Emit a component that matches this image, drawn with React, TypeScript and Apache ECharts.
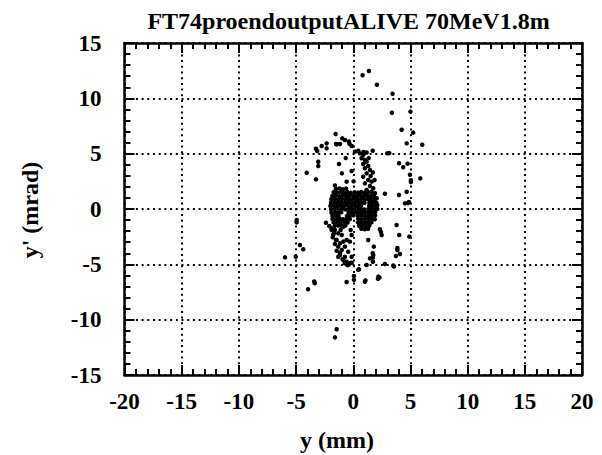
import React, { useEffect, useRef } from "react";
import * as echarts from "echarts";

// Phase-space scatter: y (mm) against y' (mrad)
const TITLE = "FT74proendoutputALIVE 70MeV1.8m";
const X_NAME = "y (mm)";
const Y_NAME = "y' (mrad)";
const X_RANGE = [-20, 20];
const Y_RANGE = [-15, 15];
const TICK_STEP = 5;

// dense left lobe of the beam core
const coreLeft: number[][] = [
  [-1.52, 1.82], [-1.21, 1.86], [-0.92, 1.79], [-0.63, 1.84],
  [-1.71, 1.52], [-1.43, 1.49], [-1.12, 1.55], [-0.81, 1.47], [-0.52, 1.53], [-0.22, 1.46],
  [-1.83, 1.18], [-1.52, 1.23], [-1.19, 1.16], [-0.9, 1.22], [-0.61, 1.17], [-0.31, 1.24], [0.02, 1.19],
  [-1.92, 0.88], [-1.6, 0.93], [-1.31, 0.86], [-1.02, 0.91], [-0.71, 0.87], [-0.41, 0.92], [-0.12, 0.88], [0.18, 0.91],
  [-1.94, 0.58], [-1.63, 0.62], [-1.33, 0.57], [-1.01, 0.61], [-0.69, 0.56], [-0.4, 0.63], [-0.11, 0.58], [0.21, 0.62],
  [-2.0, 0.28], [-1.72, 0.32], [-1.41, 0.27], [-1.12, 0.31], [-0.81, 0.29], [-0.49, 0.33], [-0.19, 0.27], [0.12, 0.31],
  [-1.93, -0.02], [-1.62, 0.03], [-1.32, -0.01], [-1.02, 0.02], [-0.71, -0.03], [-0.42, 0.01], [-0.12, -0.02], [0.19, 0.02],
  [-1.91, -0.31], [-1.61, -0.28], [-1.33, -0.33], [-1.05, -0.3], [-0.41, -0.29], [-0.1, -0.32], [0.21, -0.28],
  [-1.82, -0.61], [-1.52, -0.58], [-1.29, -0.63], [-0.55, -0.62], [-0.31, -0.6], [0.01, -0.57],
  [-1.81, -0.9], [-1.51, -0.93], [-1.21, -0.88], [-0.91, -0.92], [-0.6, -0.89], [-0.29, -0.91],
  [-1.72, -1.21], [-1.41, -1.18], [-1.1, -1.23], [-0.79, -1.19], [-0.5, -1.22],
  [-1.61, -1.52], [-1.3, -1.49], [-1.01, -1.53], [-0.69, -1.5],
];

// right lobe of the beam core
const coreRight: number[][] = [
  [0.12, 1.52], [0.41, 1.48], [0.7, 1.53], [1.01, 1.47], [1.29, 1.51],
  [0.31, 1.19], [0.6, 1.23], [0.91, 1.18], [1.2, 1.22], [1.52, 1.17], [1.81, 1.21],
  [0.42, 0.89], [0.71, 0.92], [1.02, 0.87], [1.31, 0.91], [1.61, 0.88], [1.9, 0.92],
  [0.41, 0.59], [0.69, 0.62], [0.98, 0.56], [1.41, 0.58], [1.72, 0.61], [2.01, 0.57],
  [0.42, 0.28], [0.68, 0.31], [1.39, 0.29], [1.7, 0.32], [2.02, 0.27],
  [0.4, -0.02], [0.66, 0.01], [0.95, -0.04], [1.32, -0.01], [1.52, 0.02], [1.81, -0.02], [2.1, 0.01],
  [0.41, -0.31], [0.71, -0.28], [1.0, -0.32], [1.29, -0.29], [1.61, -0.31], [1.92, -0.28],
  [0.39, -0.61], [0.7, -0.58], [1.01, -0.62], [1.31, -0.59], [1.6, -0.61], [1.91, -0.58],
  [0.42, -0.89], [0.71, -0.92], [1.02, -0.88], [1.3, -0.91], [1.62, -0.89], [1.88, -0.92],
  [0.41, -1.21], [0.69, -1.18], [1.01, -1.22], [1.31, -1.19], [1.59, -1.21],
  [0.52, -1.51], [0.81, -1.48], [1.1, -1.52], [1.41, -1.49],
  [0.71, -1.79], [1.0, -1.83], [1.29, -1.8],
];

// column of particles rising from the core towards y' = 5
const upperColumn: number[][] = [
  [0.15, 5.18], [0.44, 5.27], [0.59, 5.03], [0.87, 4.88], [0.73, 4.58], [1.02, 4.43],
  [1.17, 4.27], [0.87, 4.07], [1.31, 3.88], [1.02, 3.68], [1.46, 3.52], [1.17, 3.22],
  [1.52, 2.98], [0.87, 2.92], [1.31, 2.62], [1.61, 2.47], [1.02, 2.32], [1.46, 2.08],
  [1.75, 1.87], [1.17, 1.72], [1.61, 1.56], [1.9, 1.42], [2.05, 0.97], [2.1, 0.36],
  [0.9, 5.15], [1.17, 5.1], [1.7, 5.27], [1.86, 2.62], [1.72, 3.3], [1.35, 4.6],
];

// tail hanging below the left lobe
const lowerTail: number[][] = [
  [-2.39, -1.24], [-2.1, -1.54], [-1.89, -1.9], [-1.69, -2.2], [-1.8, -2.56], [-1.51, -2.8],
  [-1.6, -3.16], [-1.31, -3.4], [-1.45, -3.77], [-1.16, -4.0], [-1.31, -4.31], [-0.93, -4.54],
  [-0.73, -4.85], [-0.52, -5.06], [-1.01, -2.35], [-0.87, -2.95], [-0.73, -3.4], [-0.44, -3.86],
  [-0.14, -4.31], [-1.1, -1.9], [-1.89, -1.74], [-1.6, -1.9], [-1.75, -2.35], [-1.31, -2.2],
  [-1.45, -2.8], [-1.16, -3.1], [-1.01, -3.7], [-1.16, -4.15], [-0.73, -4.31], [-0.58, -4.76],
  [-0.87, -4.6], [-0.29, -4.9], [-0.14, -4.85], [-0.44, -5.06], [-0.58, -2.8], [-0.29, -2.95],
  [-0.87, -1.6], [-0.23, -1.9], [-0.14, -2.35],
];

// scattered halo particles
const halo: number[][] = [
  [0.82, 12.08], [1.37, 12.47], [2.07, 11.23], [3.44, 10.42], [3.38, 8.7], [5.0, 8.8],
  [4.23, 7.16], [5.24, 6.9], [4.67, 5.93], [6.03, 5.8],
  [-1.54, 6.78], [-0.96, 6.38], [-0.73, 6.23], [-0.38, 6.1], [-0.33, 5.9], [-2.33, 5.93],
  [-2.76, 5.69], [-3.26, 5.45], [-3.15, 5.24], [-2.33, 5.48], [-1.51, 5.87], [-1.16, 5.87],
  [-1.45, 5.85], [-0.14, 5.69], [-3.06, 4.27], [-3.06, 3.88], [-4.07, 3.28], [-3.26, 2.68],
  [-1.25, 4.07], [-0.66, 4.6], [-0.99, 3.22], [-0.14, 3.43], [0.03, 2.5], [-0.58, 2.47], [-1.6, 2.12],
  [2.97, 5.03], [3.15, 5.05],
  [4.0, 4.13], [4.37, 3.77], [4.75, 4.1], [4.96, 3.1], [5.04, 2.6], [5.04, 2.44], [5.86, 2.77],
  [2.77, 1.38], [4.0, 1.26], [4.67, 1.56], [4.87, 0.63], [4.52, 0.51], [4.78, 0.54],
  [2.33, -1.83], [2.48, -2.35], [2.42, -2.08], [3.79, -1.45], [4.02, -2.35], [4.9, -2.5],
  [3.86, -3.52], [3.86, -3.7], [4.08, -4.07], [3.73, -4.25], [1.75, -4.15], [1.72, -4.38],
  [1.7, -4.0], [1.46, -4.46], [1.31, -2.8], [1.8, -3.4], [3.56, -5.2], [3.5, -5.1],
  [2.77, -4.97], [2.19, -6.11], [2.16, -6.3], [2.3, -6.2], [1.02, -6.57], [1.07, -6.45],
  [0.5, -5.45], [0.44, -5.5], [0.06, -6.05], [0.06, -6.4], [-0.58, -6.6], [1.17, -5.06],
  [1.72, -4.76], [-0.73, -4.9],
  [-4.95, -1.0], [-4.95, -1.2], [-4.66, -3.25], [-4.37, -3.64], [-5.97, -4.37], [-5.03, -4.31],
  [-3.41, -6.55], [-3.37, -6.7], [-3.95, -7.25], [-1.45, -10.87], [-1.6, -11.6],
];

const FONT = "Liberation Serif, Times New Roman, serif";
const LABEL_SIZE = 23;

// one axis of the frame; labelled axes also carry the dotted grid
function frameAxis(
  position: "bottom" | "top" | "left" | "right",
  range: number[],
  labelled: boolean,
  margin: number
) {
  return {
    type: "value",
    position,
    min: range[0],
    max: range[1],
    interval: TICK_STEP,
    axisLine: { show: true, onZero: false, lineStyle: { color: "#000", width: 2.5 } },
    axisTick: { show: true, inside: true, length: 10, lineStyle: { color: "#000", width: 2 } },
    minorTick: { show: true, splitNumber: 5, length: 6, lineStyle: { color: "#000", width: 2 } },
    splitLine: {
      show: labelled,
      lineStyle: { color: "#000", width: 2, type: [2, 3.7] },
    },
    axisLabel: {
      show: labelled,
      margin,
      color: "#000",
      fontFamily: FONT,
      fontWeight: "bold",
      fontSize: LABEL_SIZE,
    },
  };
}

export default function App() {
  const ref = useRef<HTMLDivElement>(null);

  useEffect(() => {
    if (!ref.current) return;
    const chart = echarts.init(ref.current, undefined, { renderer: "svg" });
    const points = [...coreLeft, ...coreRight, ...upperColumn, ...lowerTail, ...halo];

    chart.setOption({
      animation: false,
      grid: { left: 124.5, right: 20, top: 43, bottom: 80 },
      xAxis: [frameAxis("bottom", X_RANGE, true, 15), frameAxis("top", X_RANGE, false, 8)],
      yAxis: [frameAxis("left", Y_RANGE, true, 23), frameAxis("right", Y_RANGE, false, 8)],
      graphic: [
        {
          type: "text",
          x: 348.5,
          y: 21,
          style: {
            text: TITLE,
            font: `bold 24px ${FONT}`,
            fill: "#000",
            align: "center",
            verticalAlign: "middle",
          },
        },
        {
          type: "text",
          x: 337,
          y: 440,
          style: {
            text: X_NAME,
            font: `bold 24px ${FONT}`,
            fill: "#000",
            align: "center",
            verticalAlign: "middle",
          },
        },
        {
          type: "text",
          x: 30,
          y: 210,
          rotation: Math.PI / 2,
          style: {
            text: Y_NAME,
            font: `bold 24px ${FONT}`,
            fill: "#000",
            align: "center",
            verticalAlign: "middle",
          },
        },
      ],
      series: [
        {
          type: "scatter",
          xAxisIndex: 0,
          yAxisIndex: 0,
          data: points,
          symbol: "circle",
          symbolSize: 4.5,
          itemStyle: { color: "#000", opacity: 1 },
          silent: true,
        },
      ],
    });

    return () => chart.dispose();
  }, []);

  return <div ref={ref} style={{ position: "fixed", left: 0, top: 0, width: 602, height: 455, background: "#fff" }} />;
}
